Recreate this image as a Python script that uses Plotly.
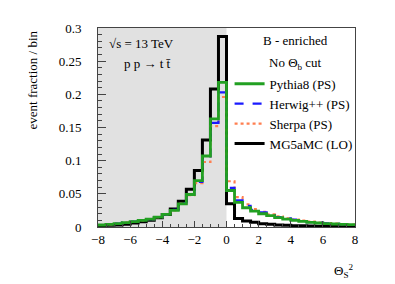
import plotly.graph_objects as go

edges = [-8 + 0.5 * i for i in range(33)]

pythia = [0.003, 0.004, 0.005, 0.0065, 0.008, 0.010, 0.012, 0.015, 0.019, 0.025, 0.035, 0.049, 0.070, 0.107, 0.163, 0.218,
          0.055, 0.037, 0.029, 0.024, 0.020, 0.017, 0.014, 0.012, 0.010, 0.0085, 0.007, 0.006, 0.005, 0.0045, 0.004, 0.0035]
herwig = [0.003, 0.004, 0.005, 0.0065, 0.008, 0.010, 0.012, 0.015, 0.019, 0.026, 0.036, 0.049, 0.068, 0.101, 0.157, 0.203,
          0.059, 0.040, 0.032, 0.026, 0.022, 0.018, 0.015, 0.013, 0.011, 0.009, 0.0075, 0.0065, 0.0055, 0.0048, 0.0042, 0.0037]
sherpa = [0.003, 0.004, 0.005, 0.0065, 0.008, 0.010, 0.012, 0.015, 0.019, 0.025, 0.035, 0.048, 0.066, 0.098, 0.152, 0.196,
          0.069, 0.045, 0.034, 0.027, 0.023, 0.019, 0.016, 0.013, 0.011, 0.0095, 0.008, 0.0068, 0.0058, 0.005, 0.0043, 0.0038]
mg5 = [0.002, 0.0025, 0.003, 0.004, 0.006, 0.008, 0.010, 0.014, 0.019, 0.027, 0.039, 0.057, 0.085, 0.131, 0.208, 0.287,
       0.035, 0.013, 0.009, 0.007, 0.005, 0.004, 0.003, 0.0025, 0.002, 0.0018, 0.0015, 0.0013, 0.0011, 0.001, 0.0009, 0.0008]

names = ["Pythia8 (PS)", "Herwig++ (PS)", "Sherpa (PS)", "MG5aMC (LO)"]

serif = "Liberation Serif"


def step(vals):
    return edges, list(vals) + [vals[-1]]


fig = go.Figure()

series = [
    (mg5, names[3], dict(color="black", width=3), 4),
    (sherpa, names[2], dict(color="#ff7f50", width=2.2, dash="dot"), 3),
    (herwig, names[1], dict(color="#1a1aff", width=2.2, dash="dash"), 2),
    (pythia, names[0], dict(color="#22a022", width=2.8), 1),
]
for vals, name, line, rank in series:
    x, y = step(vals)
    fig.add_trace(go.Scatter(x=x, y=y, mode="lines", line=dict(shape="hv", **line),
                             name=name, legendrank=rank))

fig.add_shape(type="rect", xref="x", yref="paper", x0=-8, x1=0, y0=0, y1=1,
              fillcolor="#e1e1e1", line_width=0, layer="below")

fig.update_layout(
    width=387, height=276,
    margin=dict(l=90, r=40, t=20, b=57),
    paper_bgcolor="white", plot_bgcolor="white",
    font=dict(family=serif, size=13, color="black"),
    showlegend=True,
    legend=dict(x=0.512, y=0.795, xanchor="left", yanchor="top", bgcolor="rgba(0,0,0,0)",
                font=dict(family=serif, size=13), tracegroupgap=0, itemwidth=30),
    xaxis=dict(range=[-8, 8], dtick=2, ticks="inside", ticklen=6, tickcolor="#444",
               showline=True, linecolor="#444", mirror=True, showgrid=False, zeroline=False,
               minor=dict(dtick=0.5, ticks="inside", ticklen=3, tickcolor="#444"),
               tickfont=dict(family=serif, size=13)),
    yaxis=dict(range=[0, 0.3], dtick=0.05, ticks="inside", ticklen=8, tickcolor="#444",
               showline=True, linecolor="#444", mirror=True, showgrid=False, zeroline=False,
               minor=dict(dtick=0.01, ticks="inside", ticklen=4, tickcolor="#444"),
               tickfont=dict(family=serif, size=13), ticklabelstandoff=13),
)

ann = [
    dict(text="event fraction / bin", x=-0.253, y=1, xref="paper", yref="paper", textangle=-90,
         xanchor="center", yanchor="top", showarrow=False, font=dict(family=serif, size=13)),
    dict(text="Θ<sub>S</sub><sup>2</sup>", x=1, y=-0.165, xref="paper", yref="paper",
         xanchor="right", yanchor="top", showarrow=False, font=dict(family=serif, size=13)),
    dict(text="√s = 13 TeV", x=0.035, y=0.92, xref="paper", yref="paper",
         xanchor="left", yanchor="middle", showarrow=False, font=dict(family=serif, size=13)),
    dict(text="p p → t t\u0304", x=0.095, y=0.82, xref="paper", yref="paper",
         xanchor="left", yanchor="middle", showarrow=False, font=dict(family=serif, size=13)),
    dict(text="B - enriched", x=0.77, y=0.935, xref="paper", yref="paper",
         xanchor="center", yanchor="middle", showarrow=False, font=dict(family=serif, size=13)),
    dict(text="No Θ<sub>b</sub> cut", x=0.77, y=0.82, xref="paper", yref="paper",
         xanchor="center", yanchor="middle", showarrow=False, font=dict(family=serif, size=13)),
]
fig.update_layout(annotations=ann)

fig.write_html("out.html")
